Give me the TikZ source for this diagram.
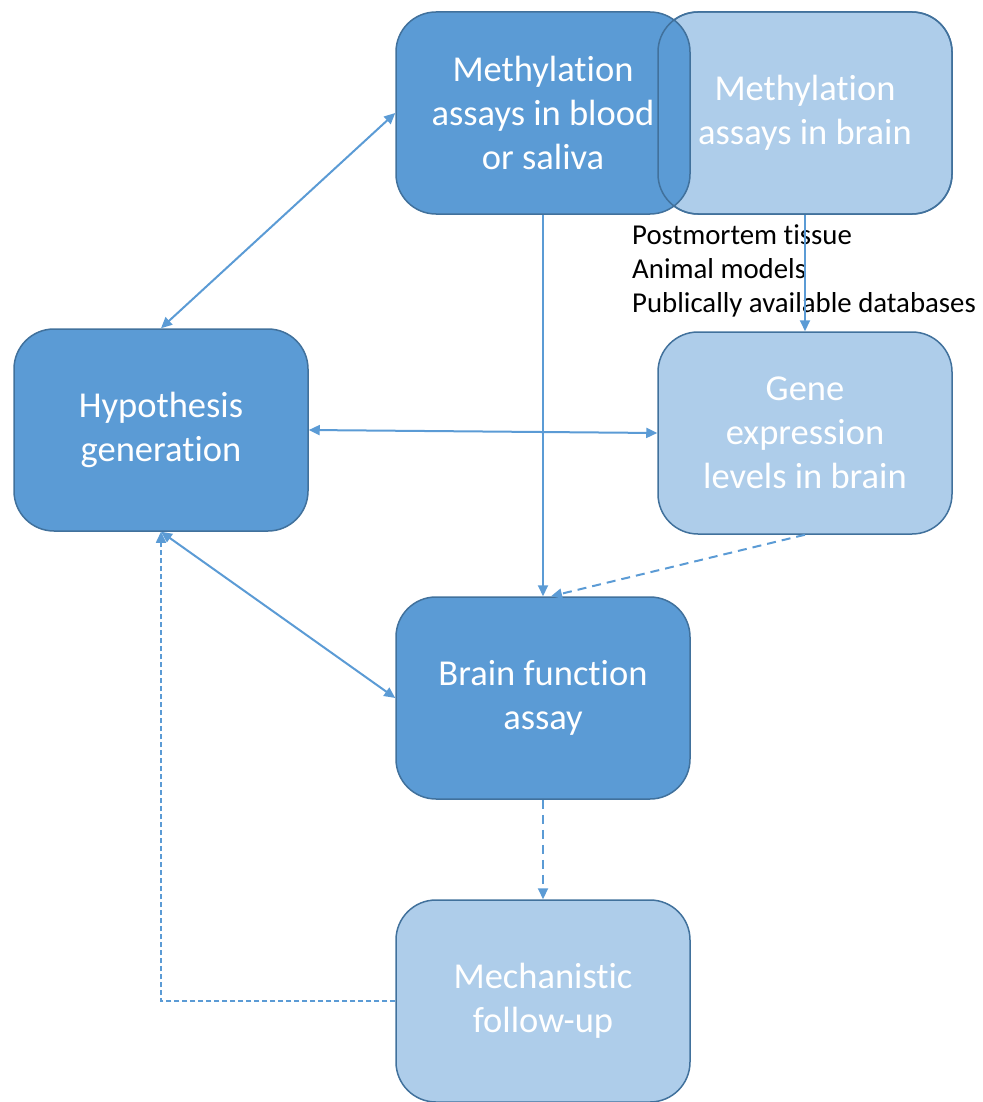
\documentclass[tikz,border=0pt]{standalone}
\usepackage{fontspec}
\setmainfont{Carlito}[Ligatures=NoCommon]
\usetikzlibrary{arrows.meta}
\definecolor{darkfill}{HTML}{5B9BD5}
\definecolor{lightfill}{HTML}{AECDEA}
\definecolor{edgeblue}{HTML}{41719C}
\definecolor{arrowblue}{HTML}{5B9BD5}
\tikzset{
  box/.style={rectangle, rounded corners=40pt, minimum width=294pt, minimum height=202pt,
    draw=edgeblue, line width=1.5pt, align=center, text=white, inner sep=0pt,
    font=\fontsize{36.5}{44}\selectfont},
  darkbox/.style={box, fill=darkfill},
  lightbox/.style={box, fill=lightfill},
  conn/.style={draw=arrowblue, line width=2pt, -{Triangle[length=11pt,width=10pt]}},
  biconn/.style={draw=arrowblue, line width=2pt, {Triangle[length=11pt,width=10pt]}-{Triangle[length=11pt,width=10pt]}},
  dashconn/.style={conn, dash pattern=on 9pt off 6pt},
  fineconn/.style={conn, line width=1.6pt, dash pattern=on 5pt off 3pt},
  lbl/.style={anchor=base west, inner sep=0pt, text=black, font=\fontsize{28.8}{34}\selectfont}
}
\begin{document}
\begin{tikzpicture}[x=1pt,y=-1pt]
\useasboundingbox (0,0) rectangle (982,1102);
\node[lightbox] (brain) at (805,113) {Methylation\\assays in brain};
\node[darkbox] (blood) at (543,113) {Methylation\\assays in blood\\or saliva};
\node[box, fill=none] (brainedge) at (805,113) {};
\node[darkbox] (hyp) at (161,430) {Hypothesis\\generation};
\node[lightbox] (gene) at (805,433) {Gene\\expression\\levels in brain};
\node[darkbox] (bf) at (543,698) {Brain function\\assay};
\node[lightbox] (mech) at (543,1001) {Mechanistic\\follow-up};
\node[lbl] (l1) at (632,244) {Postmortem tissue};
\node[lbl] (l2) at (632,278) {Animal models};
\node[lbl] (l3) at (632,312) {Publically available databases};
\draw[biconn] (hyp.north) -- (blood.west);
\draw[conn] (blood.south) -- (bf.north);
\draw[conn] (brain.south) -- (gene.north);
\draw[biconn] (hyp.east) -- (gene.west);
\draw[biconn] (hyp.south) -- (bf.west);
\draw[dashconn] (gene.south) -- ([xshift=8pt]bf.north);
\draw[dashconn] (bf.south) -- (mech.north);
\draw[fineconn] (mech.west) -| (hyp.south);
\end{tikzpicture}
\end{document}
